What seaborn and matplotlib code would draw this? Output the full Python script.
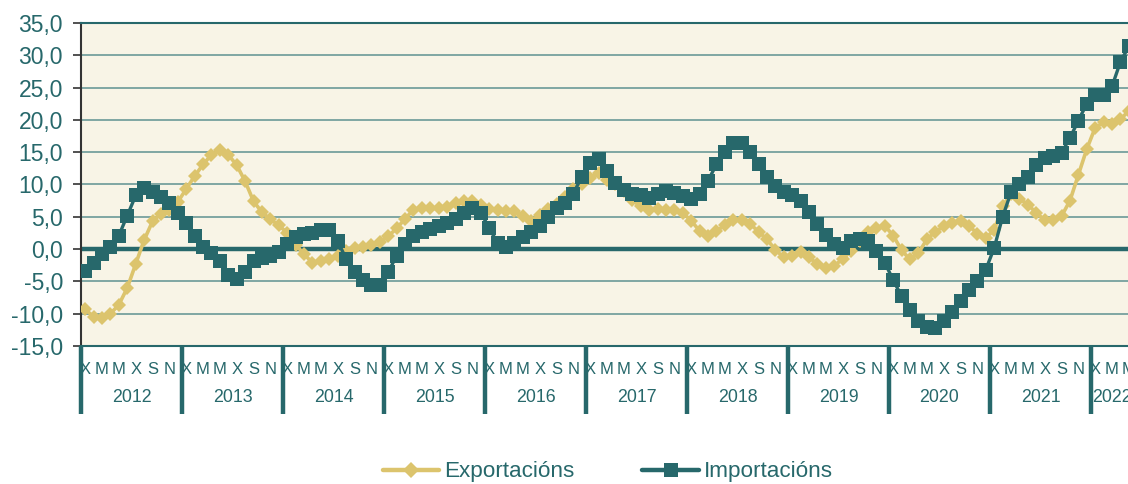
import numpy as np
import pandas as pd
import matplotlib
matplotlib.use("Agg")
import matplotlib.pyplot as plt
import matplotlib.transforms as mtransforms
from matplotlib.lines import Line2D
import seaborn as sns

# ---------------- data ----------------
years = [2012, 2013, 2014, 2015, 2016, 2017, 2018, 2019, 2020, 2021, 2022]
month_letters = ["X", "M", "M", "X", "S", "N"]
series_names = ["Exportacións", "Importacións"]

exportacions = [
    -9.3, -10.5, -10.7, -10.0, -8.6, -6.0, -2.3, 1.4, 4.3, 5.5, 6.0, 7.3,      # 2012
    9.3, 11.3, 13.1, 14.6, 15.3, 14.6, 13.0, 10.5, 7.4, 5.7, 4.6, 3.7,         # 2013
    2.5, 0.7, -0.8, -2.1, -1.8, -1.6, -1.0, -0.3, 0.1, 0.4, 0.7, 1.1,          # 2014
    2.0, 3.2, 4.7, 6.1, 6.4, 6.3, 6.3, 6.5, 7.1, 7.5, 7.4, 6.9,                # 2015
    6.2, 6.0, 5.9, 5.9, 5.1, 4.4, 5.3, 6.2, 7.0, 8.0, 9.3, 10.1,               # 2016
    11.0, 11.8, 10.7, 10.1, 9.0, 7.6, 6.6, 6.0, 6.2, 6.0, 6.0, 5.6,            # 2017
    4.4, 2.8, 2.0, 2.8, 3.7, 4.5, 4.5, 3.9, 2.7, 1.5, -0.1, -1.3,              # 2018
    -1.1, -0.5, -1.3, -2.3, -3.0, -2.6, -1.5, -0.3, 1.3, 2.7, 3.3, 3.6,        # 2019
    2.1, -0.2, -1.6, -0.6, 1.5, 2.7, 3.5, 4.0, 4.4, 3.6, 2.4, 1.7,             # 2020
    3.0, 6.6, 8.6, 7.8, 6.9, 5.6, 4.5, 4.5, 5.1, 7.5, 11.5, 15.5,              # 2021
    18.8, 19.6, 19.4, 20.1, 21.4,                                              # 2022
]

importacions = [
    -3.4, -2.1, -0.7, 0.4, 2.1, 5.2, 8.3, 9.4, 8.8, 8.0, 7.1, 5.6,             # 2012
    4.0, 2.0, 0.3, -0.6, -1.9, -4.0, -4.6, -3.5, -1.9, -1.4, -1.1, -0.5,       # 2013
    0.8, 1.9, 2.4, 2.5, 2.9, 3.0, 1.2, -1.5, -3.5, -4.8, -5.6, -5.6,           # 2014
    -3.6, -1.0, 0.8, 2.0, 2.6, 3.1, 3.6, 4.0, 4.6, 5.6, 6.3, 5.6,              # 2015
    3.3, 0.9, 0.4, 0.9, 1.9, 2.6, 3.6, 5.0, 6.3, 7.2, 8.6, 11.2,               # 2016
    13.4, 13.9, 12.1, 10.3, 9.1, 8.6, 8.3, 7.9, 8.6, 9.0, 8.7, 8.2,            # 2017
    7.8, 8.6, 10.6, 13.1, 15.1, 16.5, 16.5, 15.1, 13.1, 11.2, 9.8, 8.9,        # 2018
    8.4, 7.5, 5.7, 3.9, 2.2, 0.8, 0.1, 1.3, 1.6, 1.3, -0.3, -2.1,              # 2019
    -4.8, -7.3, -9.5, -11.1, -12.1, -12.2, -11.1, -9.7, -8.0, -6.4, -4.9, -3.2,  # 2020
    0.2, 5.0, 8.8, 10.0, 11.2, 13.0, 14.1, 14.4, 14.9, 17.2, 19.9, 22.5,       # 2021
    23.8, 23.8, 25.2, 29.0, 31.4,                                              # 2022
]

yticks = [-15, -10, -5, 0, 5, 10, 15, 20, 25, 30, 35]

# ---------------- style ----------------
sns.set_theme(style="white")
plt.rcParams["font.family"] = ["Liberation Sans", "DejaVu Sans"]

TEAL = "#27686B"
GOLD = "#DCC46D"
BG = "#F8F4E6"
GRID = "#5F9290"

W, H = 1128, 484
fig = plt.figure(figsize=(W / 100, H / 100), dpi=100)
fig.patch.set_facecolor("white")

n = len(exportacions)
x_right = n - 0.5
ax_left_px, ax_right_px = 81, 81 + (x_right + 0.5) * (101 / 12)
ax = fig.add_axes([ax_left_px / W, 1 - 346 / H, (ax_right_px - ax_left_px) / W, 323 / H])
ax.set_facecolor(BG)

df = pd.DataFrame({
    "idx": np.arange(n),
    series_names[0]: exportacions,
    series_names[1]: importacions,
})

# grid lines
for v in yticks:
    if v in (-15, 0, 35):
        continue
    ax.axhline(v, color=GRID, lw=1.1, zorder=1)
ax.axhline(0, color=TEAL, lw=3.2, zorder=2)

sns.lineplot(data=df, x="idx", y=series_names[0], ax=ax, color=GOLD, lw=2.6,
             marker="D", markersize=7.2, markeredgewidth=0, estimator=None, zorder=3)
sns.lineplot(data=df, x="idx", y=series_names[1], ax=ax, color=TEAL, lw=2.4,
             marker="s", markersize=9.5, markeredgewidth=0, estimator=None, zorder=4)

ax.set_xlim(-0.5, x_right)
ax.set_ylim(-15, 35)
ax.set_yticks(yticks)
ax.set_yticklabels([f"{v:.1f}".replace(".", ",") for v in yticks])
ax.tick_params(axis="y", which="major", length=6, width=1.2, color="#333333",
               labelsize=16.5, labelcolor=TEAL, pad=7, left=True)
ax.set_xticks([])
ax.set_xlabel("")
ax.set_ylabel("")
ax.grid(False)

for s in ("top", "bottom"):
    ax.spines[s].set_color(TEAL)
    ax.spines[s].set_linewidth(1.5)
ax.spines["left"].set_color("#333333")
ax.spines["left"].set_linewidth(1.5)
ax.spines["right"].set_visible(False)

# ---------------- two-level x axis ----------------
trans = mtransforms.blended_transform_factory(ax.transData, ax.transAxes)
ax_h = 323
month_y = -(369 - 346) / ax_h
year_y = -(398 - 346) / ax_h
sep_bottom = -(414 - 346) / ax_h

for yi, yr in enumerate(years):
    months_present = [m for m in range(12) if yi * 12 + m < n]
    if not months_present:
        continue
    for k, m in enumerate(range(0, 12, 2)):
        pos = yi * 12 + m
        if pos < n:
            ax.text(pos, month_y, month_letters[k], transform=trans, ha="center", va="center",
                    fontsize=12, color=TEAL, zorder=3, clip_on=False)
    center = yi * 12 + np.mean(months_present)
    ax.text(center, year_y, str(yr), transform=trans, ha="center", va="center",
            fontsize=12.8, color=TEAL, clip_on=False)
    ax.plot([yi * 12 - 0.5, yi * 12 - 0.5], [0, sep_bottom], transform=trans,
            color=TEAL, lw=3.2, clip_on=False, zorder=5, solid_capstyle="butt")

# ---------------- legend ----------------
handles = [
    Line2D([], [], color=GOLD, lw=3.2, marker="D", markersize=8, markeredgewidth=0),
    Line2D([], [], color=TEAL, lw=3.2, marker="s", markersize=10, markeredgewidth=0),
]
leg = fig.legend(handles, series_names, loc="center", bbox_to_anchor=(608 / W, 1 - 472 / H),
                 ncol=2, frameon=False, fontsize=16.2, handlelength=2.5, handletextpad=0.25,
                 columnspacing=3.0, labelcolor=TEAL)

fig.savefig("out.png", dpi=100, facecolor="white")
